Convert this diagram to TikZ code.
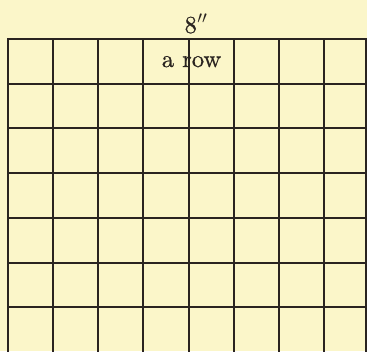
\documentclass[tikz,border=0pt]{standalone}
\usepackage{fontspec}
\newfontfamily\lblfont{lmroman10-regular.otf}[FakeBold=0.7]
\definecolor{paper}{HTML}{FBF6C9}
\definecolor{ink}{HTML}{2A2420}
\tikzset{
  gridline/.style={draw=ink, line width=1.3pt},
  edgeline/.style={draw=ink, line width=2.1pt},
  lbl/.style={text=ink, font=\lblfont\fontsize{24.5}{27}\selectfont, inner sep=0pt, anchor=base},
}
\begin{document}
\begin{tikzpicture}[x=1pt,y=-1pt]
\useasboundingbox (0,0) rectangle (367,351);
\fill[paper] (0,0) rectangle (367,351);
\clip (0,0) rectangle (367,351);
% vertical lines
\foreach \xx in {53,98,143,189,234,279,324,366}
  \draw[gridline] (\xx,39) -- (\xx,352);
% horizontal lines
\foreach \yy in {84,128,173,218,263,307}
  \draw[gridline] (8,\yy) -- (368,\yy);
% outer edges
\draw[edgeline] (8,38) -- (8,352);
\draw[edgeline] (7,39) -- (368,39);
% labels
\node[lbl] (width) at (196,33) {8\kern0.5pt$''$};
\node[lbl] (row) at (191.5,67) {a row};
\end{tikzpicture}
\end{document}
